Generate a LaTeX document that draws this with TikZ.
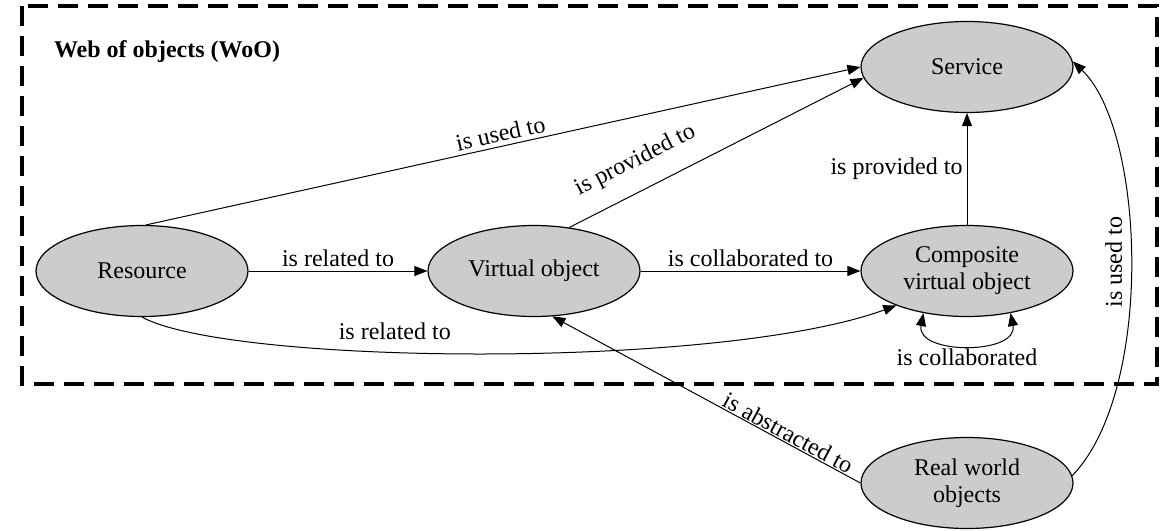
\documentclass[tikz,border=0pt]{standalone}
\usepackage{fontspec}
\setmainfont{Liberation Serif}
\usetikzlibrary{shapes.geometric,arrows.meta}

\begin{document}
\begin{tikzpicture}[x=0.5pt, y=-0.5pt,
		>={Triangle[length=6.5pt, width=5pt]},
		obj/.style={draw, ellipse, fill=black!20, line width=0.6pt, minimum width=106pt, minimum height=45.5pt, inner sep=0pt, align=center, font=\fontsize{12}{13.5}\selectfont},
		rel/.style={->, line width=0.5pt},
		lbl/.style={font=\fontsize{12}{13.5}\selectfont, inner sep=2pt}]
			\useasboundingbox (0,0) rectangle (1170,530);

			% Frame for the WoO
			\draw[line width=2pt, dash pattern=on 10pt off 5pt] (22,6) rectangle (1157,384);
			\node[anchor=west, font=\bfseries\fontsize{12}{14}\selectfont] (title) at (47,52) {Web of objects (WoO)};

			% Objects
			\node[obj] (res) at (142,271) {Resource};
			\node[obj] (vo) at (534,271) {Virtual object};
			\node[obj] (cvo) at (967,271) {Composite\\virtual object};
			\node[obj] (serv) at (967,67) {Service};
			\node[obj] (rwo) at (967,483) {Real world\\objects};

			% Relations inside the WoO
			\draw[rel] (res) -- node[lbl, above] {is related to} (vo);
			\draw[rel] (vo) -- node[lbl, above] {is collaborated to} (cvo);
			\draw[rel] (cvo) -- node[lbl, left] {is provided to} (serv);
			\draw[rel] (res.85) -- node[lbl, above, sloped] {is used to} (serv.west);
			\draw[rel] (vo.51) -- node[lbl, above=7pt, sloped, pos=0.27] {is provided to} (serv.186);
			\draw[rel] (res.south) .. controls (230,365) and (720,370) .. node[lbl, above=4pt, pos=0.4] {is related to} (cvo.206);
			\draw[rel, <->] (cvo.224) .. controls +(-8,42) and +(8,42) .. node[lbl, below] {is collaborated} (cvo.316);

			% Relations from the real world
			\draw[rel] (rwo.west) -- node[lbl, above, sloped, pos=0.25, inner sep=0.5pt] {is abstracted to} (vo.292);
			\draw[rel] (rwo.4) .. controls (1155,390) and (1145,130) .. node[lbl, pos=0.5, anchor=south, rotate=90, inner sep=4pt] {is used to} (serv.3);
		\end{tikzpicture}
\end{document}
